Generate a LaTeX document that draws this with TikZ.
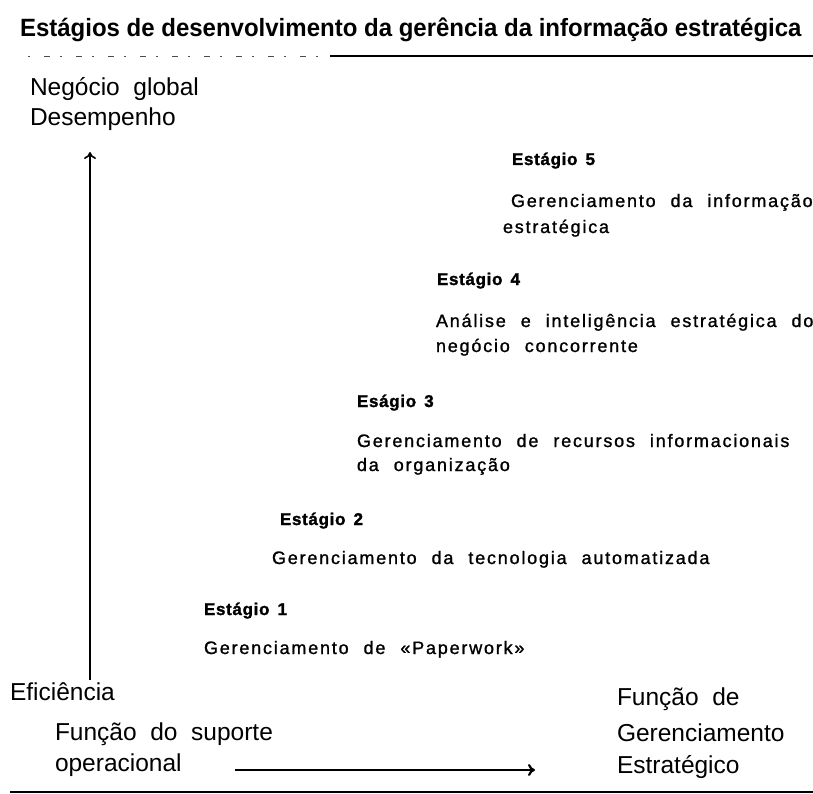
\documentclass[tikz,border=0pt]{standalone}
\usepackage{fontspec}
\setmainfont{Liberation Sans}
\newfontfamily\titlef[FakeStretch=0.96]{Liberation Sans}
\newfontfamily\bodyf[LetterSpace=10,WordSpace=2.2,FakeBold=1.2]{Liberation Sans}
\newfontfamily\headf[LetterSpace=4,WordSpace=1.5,FakeBold=1.5]{Liberation Sans}
\newfontfamily\labf[WordSpace=2.0]{Liberation Sans}
\usetikzlibrary{arrows.meta}
\tikzset{
  txt/.style={inner sep=0pt, outer sep=0pt, anchor=base west},
  ttl/.style={txt, font=\titlef\bfseries\fontsize{25}{28}\selectfont},
  stagehead/.style={txt, font=\headf\bfseries\fontsize{17}{20}\selectfont},
  stagebody/.style={txt, font=\bodyf\fontsize{18}{20}\selectfont},
  axislab/.style={txt, font=\labf\fontsize{24.5}{28}\selectfont},
  axisarrow/.style={-{To[length=7pt,width=12pt]}, line width=1.6pt},
  rule/.style={line width=1.4pt}
}
\begin{document}
\begin{tikzpicture}[x=1pt,y=1pt]
\useasboundingbox (0,0) rectangle (813,-794);
% title
\node[ttl] (title) at (20,-37) {Estágios de desenvolvimento da gerência da informação estratégica};
\coordinate (r1a) at (28,-56);
\coordinate (r1b) at (330,-56);
\coordinate (r1c) at (813,-56);
\draw[line width=0.8pt, black!70, dash pattern=on 2pt off 14pt on 6pt off 10pt] (r1a) -- (r1b);
\draw[rule] (r1b) -- (r1c);
% y axis labels
\node[axislab] (neg) at (30,-96) {Negócio global};
\node[axislab] (des) at (30,-126) {Desempenho};
% stages
\node[stagehead] (h5) at (512,-165) {Estágio 5};
\node[stagebody] (b5a) at (511,-207) {Gerenciamento da informação};
\node[stagebody] (b5b) at (503,-233) {estratégica};
\node[stagehead] (h4) at (437,-285) {Estágio 4};
\node[stagebody] (b4a) at (436,-327) {Análise e inteligência estratégica do};
\node[stagebody] (b4b) at (436,-352) {negócio concorrente};
\node[stagehead] (h3) at (357,-407) {Eságio 3};
\node[stagebody] (b3a) at (357,-447) {Gerenciamento de recursos informacionais};
\node[stagebody] (b3b) at (357,-471) {da organização};
\node[stagehead] (h2) at (280,-525) {Estágio 2};
\node[stagebody] (b2a) at (272,-564) {Gerenciamento da tecnologia automatizada};
\node[stagehead] (h1) at (204,-615) {Estágio 1};
\node[stagebody] (b1a) at (204,-654) {Gerenciamento de «Paperwork»};
% bottom labels
\node[axislab] (efi) at (10,-700) {Eficiência};
\node[axislab] (fs1) at (55,-740) {Função do suporte};
\node[axislab] (fs2) at (55,-771) {operacional};
\node[axislab] (fg1) at (617,-705) {Função de};
\node[axislab] (fg2) at (617,-741) {Gerenciamento};
\node[axislab] (fg3) at (617,-773) {Estratégico};
% arrows
\coordinate (va) at (90,-680);
\coordinate (vb) at (90,-152);
\draw[axisarrow] (va) -- (vb);
\coordinate (ha) at (235,-770);
\coordinate (hb) at (535,-770);
\draw[axisarrow, line width=2.2pt] (ha) -- (hb);
% bottom rule
\coordinate (r2a) at (10,-792);
\coordinate (r2b) at (813,-792);
\draw[rule] (r2a) -- (r2b);
\end{tikzpicture}
\end{document}
